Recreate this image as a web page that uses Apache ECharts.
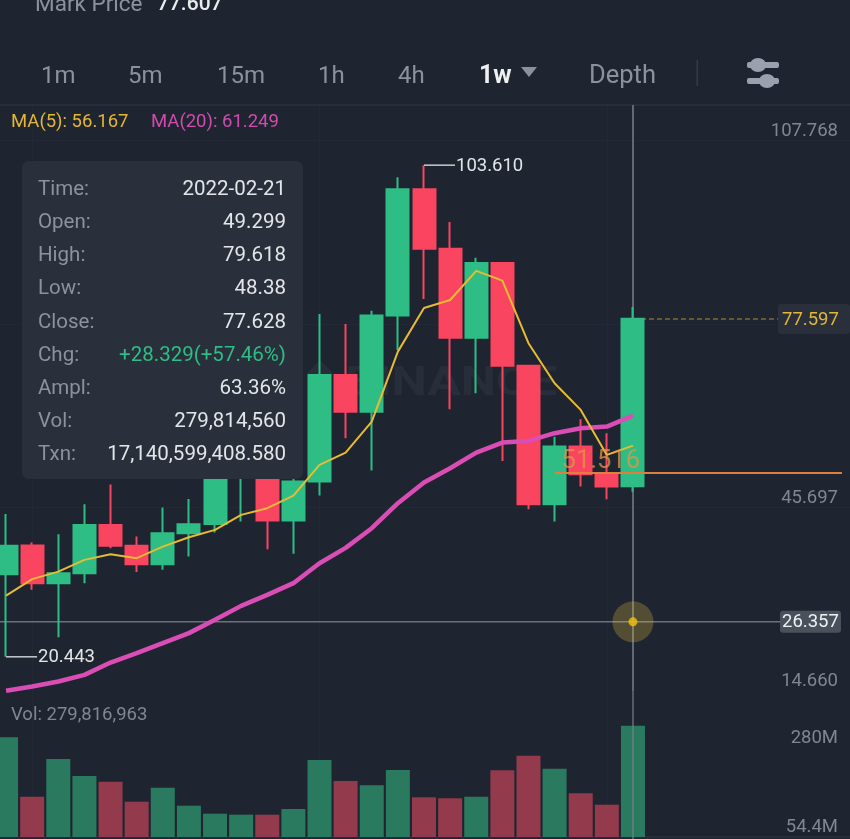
<!DOCTYPE html>
<html><head><meta charset="utf-8">
<style>html,body{margin:0;padding:0;background:#1f2530}#c{width:850px;height:839px}</style>
<script src="https://cdn.jsdelivr.net/npm/echarts@6/dist/echarts.min.js"></script>
</head><body><div id="c"></div>
<script>
const categories=['2021-09-06','2021-09-13','2021-09-20','2021-09-27','2021-10-04','2021-10-11','2021-10-18','2021-10-25','2021-11-01','2021-11-08','2021-11-15','2021-11-22','2021-11-29','2021-12-06','2021-12-13','2021-12-20','2021-12-27','2022-01-03','2022-01-10','2022-01-17','2022-01-24','2022-01-31','2022-02-07','2022-02-14','2022-02-21','f1','f2','f3','f4','f5','f6','f7','f8'];
const opens =[34.42,39.26,32.90,34.59,42.76,39.21,36.11,41.36,42.93,52.06,55.44,43.49,50.08,68.13,61.92,78.16,99.53,89.49,74.43,87.07,69.70,46.26,56.00,51.34,49.299];
const closes=[39.21,32.90,34.59,42.76,39.21,36.11,41.36,42.88,52.06,55.44,43.49,50.08,68.13,61.92,78.16,99.53,89.49,74.43,87.07,69.70,46.26,56.00,51.34,49.24,77.628];
const lows  =[20.443,31.77,23.77,32.90,38.82,34.81,35.15,37.40,41.46,43.32,38.65,37.86,47.72,57.42,51.94,72.36,80.98,62.33,65.03,53.58,45.41,43.32,49.24,47.11,48.38];
const highs =[44.62,39.77,41.19,46.26,49.58,40.78,45.69,47.16,54.09,58.82,57.13,52.06,78.44,76.75,79.00,101.56,103.61,94.00,87.96,87.19,69.75,57.69,60.64,58.27,79.618];
const ma5 =[30.80,33.58,34.86,36.84,37.81,37.13,39.09,40.68,41.92,44.45,45.59,47.72,52.91,54.99,60.23,72.07,79.46,80.81,85.72,84.08,73.49,66.73,62.21,54.60,56.167];
const ma20=[14.70,15.42,16.26,17.39,19.47,21.06,22.76,24.45,26.70,29.06,30.92,32.90,36.28,38.87,42.20,46.43,49.92,52.35,54.99,56.68,56.97,58.27,59.12,59.39,61.249];
const volumes=[250.6,101.3,196.1,153.4,139.0,88.7,123.9,78.7,58.6,56.1,56.1,70.4,193.6,140.8,130.0,168.4,99.8,97.3,101.3,167.7,204.4,171.7,109.9,81.2,279.8];
const priceTicks=[14.660,45.697,107.768];
const faintPrices=[45.697,76.733,107.768];
const faintDates=['2021-09-13','2021-11-29','2022-02-14'];
const volumeTicks=[54.4,280];
const tabs=['1m','5m','15m','1h','4h','1w','Depth'];
const tooltipLabels=['Time:','Open:','High:','Low:','Close:','Chg:','Ampl:','Vol:','Txn:'];
const tooltipValues=['2022-02-21','49.299','79.618','48.38','77.628','+28.329(+57.46%)','63.36%','279,814,560','17,140,599,408.580'];
const lastDate='2022-02-21', crossPrice=26.357, lastPrice=77.597, avgPrice=51.516;

const F='Roboto, sans-serif', GREEN='#2ebd85', RED='#f9455f', BG='#1f2530';
const txt=(x,y,text,fill,size,extra)=>({type:'text',x,y,z:60,silent:true,style:Object.assign({text,fill,font:`${(extra&&extra.weight)||400} ${size}px ${F}`,textVerticalAlign:'middle',textAlign:(extra&&extra.align)||'left'})});
const tabX=[41,128,217,318,398,479,589];
const elements=[
 txt(35,5,'Mark Price','#8b929e',22.5),txt(157,5,'77.607','#e9ebee',21,{weight:500}),
 ...tabs.map((t,i)=>txt(tabX[i],77,t,i===5?'#eef0f2':'#8b929e',i===5?25:(i===6?25.5:24),{weight:i===5?700:400})),
 {type:'polygon',z:60,silent:true,shape:{points:[[521,67],[537,67],[529,77]]},style:{fill:'#8b929e'}},
 {type:'rect',z:60,silent:true,shape:{x:696.5,y:60,width:1.5,height:26},style:{fill:'#343b47'}},
 {type:'rect',z:60,silent:true,shape:{x:747,y:62,width:32,height:6,r:2},style:{fill:'#9aa1ae'}},
 {type:'ellipse',z:60,silent:true,shape:{cx:758,cy:65,rx:8,ry:7},style:{fill:'#9aa1ae'}},
 {type:'rect',z:60,silent:true,shape:{x:747,y:78,width:32,height:6,r:2},style:{fill:'#9aa1ae'}},
 {type:'ellipse',z:60,silent:true,shape:{cx:767,cy:81,rx:8,ry:7},style:{fill:'#9aa1ae'}},
 txt(11,122,'MA(5): 56.167','#e3b636',18.5),txt(151,122,'MA(20): 61.249','#d14bae',18.5),
 txt(11,715,'Vol: 279,816,963','#7f8793',18.5),
 {type:'polygon',z:0,silent:true,shape:{points:[[320,360],[333,373],[320,384],[307,373]]},style:{fill:'#282e39'}},
 {type:'text',x:345,y:385,scaleX:1.25,z:0,silent:true,style:{text:'BINANCE',fill:'#282e39',font:`700 40px ${F}`,textVerticalAlign:'middle'}},
 {type:'rect',z:55,silent:true,shape:{x:22,y:161,width:281,height:318,r:7},style:{fill:'#2a303b'}},
 ...tooltipLabels.map((t,i)=>txt(38,190+33.1*i,t,'#8b929e',20.5)),
 ...tooltipValues.map((t,i)=>txt(286,190+33.1*i,t,i===5?GREEN:'#e3e5e8',20.5,{align:'right'})),
];

function calloutItem(params,api){
 const p=api.coord([api.value(0),api.value(1)]);
 return {type:'group',children:[
  {type:'line',shape:{x1:p[0],y1:p[1],x2:p[0]+31,y2:p[1]},style:{stroke:'#c9ccd1',lineWidth:1.5}},
  {type:'text',x:p[0]+32,y:p[1]+1,style:{text:Number(api.value(1)).toFixed(3),fill:'#e3e5e8',font:`400 18.5px ${F}`,textVerticalAlign:'middle'}}]};
}
function crossItem(params,api){
 const p=api.coord([lastDate,api.value(0)]);
 return {type:'line',shape:{x1:0,y1:p[1],x2:781,y2:p[1]},style:{stroke:'#6c727d',lineWidth:1.5}};
}
function tagItem(params,api){
 const p=api.coord([lastDate,api.value(0)]), s=params.dataIndex===0;
 const y=p[1],c=s?'#e3b636':'#eef0f2',bg=s?'#2a303b':'#4a505c';
 return {type:'group',children:[
  {type:'rect',shape:{x:s?778:780,y:y-(s?15:11),width:s?72:61,height:s?30:22,r:3},style:{fill:bg}},
  {type:'text',x:782,y:y+1,style:{text:Number(api.value(0)).toFixed(3),fill:c,font:`400 18.5px ${F}`,textVerticalAlign:'middle'}}]};
}
const faintLine={color:'#232934',width:1,type:'solid'};
const option={
 animation:false,backgroundColor:BG,graphic:{elements},
 grid:[{left:-7,top:105,width:862,height:586,outerBoundsMode:'none'},{left:-7,top:691,width:862,height:148,outerBoundsMode:'none'}],
 xAxis:[0,1].map(i=>({type:'category',gridIndex:i,position:'top',data:categories,boundaryGap:true,
   axisLine:{show:true,lineStyle:{color:'#2c323d',width:1.5}},axisTick:{show:false},axisLabel:{show:false},splitLine:{show:false}})),
 yAxis:[
  {type:'value',gridIndex:0,position:'right',scale:true,min:14.66,max:113.79,
   axisLine:{show:false},axisTick:{show:false},splitLine:{show:false},
   axisLabel:{inside:true,margin:17,customValues:priceTicks,color:'#7f8793',fontFamily:F,fontSize:18.5,verticalAlign:'bottom',formatter:v=>v.toFixed(3),showMinLabel:true,showMaxLabel:true}},
  {type:'value',gridIndex:1,position:'right',min:-5.03,max:367,
   axisLine:{show:false},axisTick:{show:false},splitLine:{show:false},
   axisLabel:{inside:true,margin:17,customValues:volumeTicks,color:'#7f8793',fontFamily:F,fontSize:18.5,verticalAlign:'top',padding:[3,0,0,0],formatter:v=>v+'M'}}],
 series:[
  {type:'line',name:'faint',data:[],z:0,silent:true,
   markLine:{z:0,silent:true,symbol:'none',animation:false,label:{show:false},lineStyle:faintLine,
    data:[...faintDates.map(d=>({xAxis:d})),...faintPrices.map(v=>({yAxis:v}))]}},
  {type:'line',name:'faintVol',data:[],xAxisIndex:1,yAxisIndex:1,z:0,silent:true,
   markLine:{z:0,silent:true,symbol:'none',animation:false,label:{show:false},lineStyle:faintLine,
    data:faintDates.map(d=>({xAxis:d}))}},
  {type:'line',name:'guides',data:[],z:1,xAxisIndex:0,yAxisIndex:0,silent:true,
   markLine:{z:1,silent:true,symbol:'none',animation:false,label:{show:false},data:[
     {xAxis:lastDate,lineStyle:{color:'#7a808b',width:1.5,type:'solid'}}]}},
  {type:'custom',name:'crossline',data:[[crossPrice]],z:1,silent:true,renderItem:crossItem,encode:{y:0},clip:false},
  {type:'candlestick',name:'price',xAxisIndex:0,yAxisIndex:0,z:2,barWidth:22.5,
   data:opens.map((o,i)=>[o,closes[i],lows[i],highs[i]]),
   itemStyle:{color:GREEN,color0:RED,borderColor:GREEN,borderColor0:RED,borderWidth:2}},
  {type:'line',name:'MA20',data:ma20,z:3,symbol:'none',lineStyle:{color:'#d94db4',width:4.5}},
  {type:'line',name:'MA5',data:ma5,z:4,symbol:'none',lineStyle:{color:'#e8bb34',width:2}},
  {type:'line',name:'avg',data:[],z:5,silent:true,
   markLine:{silent:true,symbol:'none',animation:false,data:[
    [{coord:['2022-01-31',avgPrice],lineStyle:{color:'#e07f3c',width:1.8,type:'solid'},label:{show:true,position:'start',formatter:String(avgPrice.toFixed(3)),color:'rgba(226,150,70,0.75)',fontFamily:F,fontSize:25.5,distance:[0,0],offset:[7,-12],align:'left',verticalAlign:'middle'}},{coord:['f8',avgPrice]}]]}},
  {type:'line',name:'last',data:[],z:1,silent:true,
   markLine:{z:1,silent:true,symbol:'none',animation:false,label:{show:false},data:[
    [{coord:[lastDate,lastPrice],lineStyle:{color:'#7d6a33',width:1.5,type:[5,3]}},{coord:['f6',lastPrice]}]]}},
  {type:'scatter',name:'halo',data:[[lastDate,crossPrice]],z:5,symbolSize:41,silent:true,itemStyle:{color:'rgba(232,190,60,0.33)'}},
  {type:'scatter',name:'dot',data:[[lastDate,crossPrice]],z:6,symbolSize:9,silent:true,itemStyle:{color:'#f2c20f'}},
  {type:'custom',name:'callouts',data:[['2021-12-27',103.61],['2021-09-06',20.443]],z:6,silent:true,renderItem:calloutItem,encode:{x:0,y:1}},
  {type:'custom',name:'tags',data:[[lastPrice],[crossPrice]],z:6,silent:true,renderItem:tagItem,encode:{y:0},clip:false},
  {type:'line',name:'volGuide',data:[],xAxisIndex:1,yAxisIndex:1,z:5,silent:true,
   markLine:{silent:true,symbol:'none',animation:false,label:{show:false},data:[{xAxis:lastDate,lineStyle:{color:'#7a808b',width:1.5,type:'solid',opacity:.8}}]}},
  {type:'bar',name:'volume',xAxisIndex:1,yAxisIndex:1,z:2,barWidth:24,
   data:volumes.map((v,i)=>({value:v,itemStyle:{color:closes[i]>=opens[i]?'#2a7a60':'#933a4d'}}))},
 ]};
echarts.init(document.getElementById('c'),null,{renderer:'canvas'}).setOption(option);
</script></body></html>
